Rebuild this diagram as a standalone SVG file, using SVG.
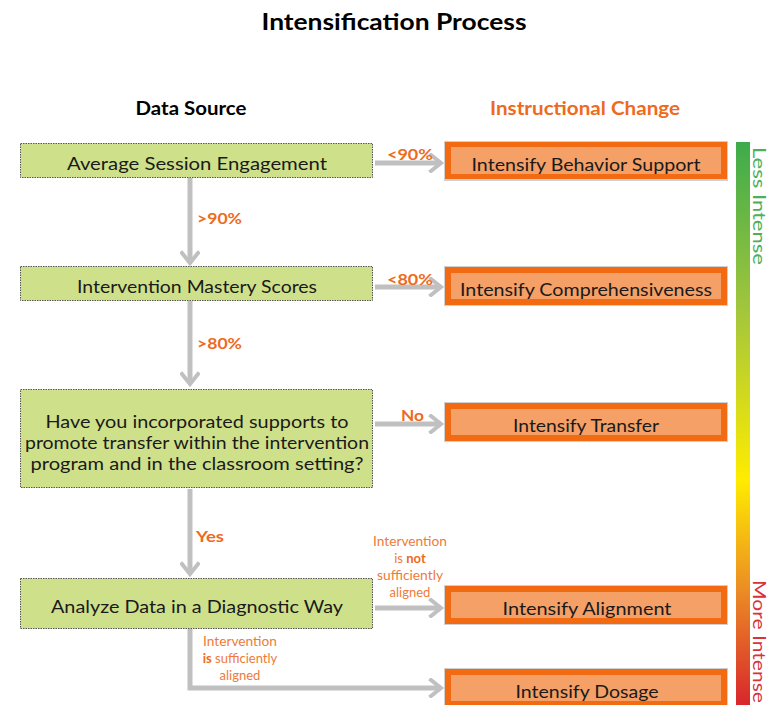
<svg xmlns="http://www.w3.org/2000/svg" width="771" height="705" viewBox="0 0 771 705">
  <style>
    text { font-family: Lato, "Noto Sans", "Liberation Sans", sans-serif; }
    .title { font-size: 23px; font-weight: bold; fill: #000; }
    .head { font-size: 18px; font-weight: bold; }
    .src rect { fill: #cfe08a; stroke: #555; stroke-width: 1; stroke-dasharray: 1.5 1; }
    .src text { font-size: 18px; fill: #1a1a1a; text-anchor: middle; }
    .chg .outer { fill: #d0d0d0; }
    .chg .band { fill: #f26a11; }
    .chg .inner { fill: #f4a066; }
    .chg text { font-size: 18px; fill: #1a1a1a; text-anchor: middle; }
    .conn path { fill: none; stroke: #c0c0c0; stroke-width: 5; }
    .lbl { font-size: 16px; font-weight: bold; fill: #ee6a1c; }
    .note { font-size: 13px; fill: #ee7b3a; text-anchor: middle; }
    .note .b { font-weight: bold; fill: #ee6a1c; }
  </style>
  <defs>
    <marker id="arr" viewBox="0 0 10 10" refX="7" refY="5" markerWidth="4" markerHeight="4" markerUnits="strokeWidth" orient="auto">
      <path d="M2,1 L7,5 L2,9" fill="none" stroke="#c0c0c0" stroke-width="2" stroke-linecap="square"/>
    </marker>
    <linearGradient id="scale" x1="0" y1="0" x2="0" y2="1">
      <stop offset="0" stop-color="#3dab4b"/>
      <stop offset="0.3" stop-color="#a3c63c"/>
      <stop offset="0.6" stop-color="#ffec00"/>
      <stop offset="0.8" stop-color="#eb8a25"/>
      <stop offset="1" stop-color="#d8262d"/>
    </linearGradient>
  </defs>

  <text class="title" x="394" y="30" text-anchor="middle" textLength="265" lengthAdjust="spacingAndGlyphs">Intensification Process</text>
  <text class="head" x="191" y="115" text-anchor="middle" fill="#000" textLength="111" lengthAdjust="spacingAndGlyphs">Data Source</text>
  <text class="head" x="585" y="115" text-anchor="middle" fill="#ee6a1c" textLength="190" lengthAdjust="spacingAndGlyphs">Instructional Change</text>

  <!-- connectors -->
  <g id="connectors" class="conn">
    <path d="M375,163 H441" marker-end="url(#arr)"/>
    <path d="M375,287 H441" marker-end="url(#arr)"/>
    <path d="M375,424 H441" marker-end="url(#arr)"/>
    <path d="M375,608 H441" marker-end="url(#arr)"/>
    <path d="M190,178 V263" marker-end="url(#arr)"/>
    <path d="M190,301 V384" marker-end="url(#arr)"/>
    <path d="M190,489 V574" marker-end="url(#arr)"/>
    <path d="M190,629 V688 H441" marker-end="url(#arr)"/>
  </g>

  <!-- branch labels -->
  <g id="labels">
    <text class="lbl" x="387" y="160" textLength="46" lengthAdjust="spacingAndGlyphs">&lt;90%</text>
    <text class="lbl" x="197" y="224" textLength="45" lengthAdjust="spacingAndGlyphs">&gt;90%</text>
    <text class="lbl" x="387" y="285" textLength="46" lengthAdjust="spacingAndGlyphs">&lt;80%</text>
    <text class="lbl" x="197" y="349" textLength="45" lengthAdjust="spacingAndGlyphs">&gt;80%</text>
    <text class="lbl" x="401" y="421" textLength="23" lengthAdjust="spacingAndGlyphs">No</text>
    <text class="lbl" x="196" y="542" textLength="28" lengthAdjust="spacingAndGlyphs">Yes</text>
    <text class="note" x="410" y="546" textLength="74" lengthAdjust="spacingAndGlyphs">Intervention</text>
    <text class="note" x="410" y="563">is <tspan class="b">not</tspan></text>
    <text class="note" x="410" y="580" textLength="66" lengthAdjust="spacingAndGlyphs">sufficiently</text>
    <text class="note" x="410" y="597">aligned</text>
    <text class="note" x="240" y="646" textLength="74" lengthAdjust="spacingAndGlyphs">Intervention</text>
    <text class="note" x="240" y="663"><tspan class="b">is</tspan> sufficiently</text>
    <text class="note" x="240" y="680">aligned</text>
  </g>

  <!-- data source nodes -->
  <g id="src-engagement" class="src">
    <rect x="20.5" y="143.5" width="352" height="34"/>
    <text x="197" y="170" textLength="260" lengthAdjust="spacingAndGlyphs">Average Session Engagement</text>
  </g>
  <g id="src-mastery" class="src">
    <rect x="20.5" y="266.5" width="352" height="34"/>
    <text x="197" y="293" textLength="240" lengthAdjust="spacingAndGlyphs">Intervention Mastery Scores</text>
  </g>
  <g id="src-transfer" class="src">
    <rect x="20.5" y="389.5" width="352" height="98"/>
    <text x="197" y="428" textLength="303" lengthAdjust="spacingAndGlyphs">Have you incorporated supports to</text>
    <text x="197" y="449" textLength="344" lengthAdjust="spacingAndGlyphs">promote transfer within the intervention</text>
    <text x="197" y="470" textLength="333" lengthAdjust="spacingAndGlyphs">program and in the classroom setting?</text>
  </g>
  <g id="src-diagnostic" class="src">
    <rect x="20.5" y="578.5" width="352" height="50"/>
    <text x="197" y="613" textLength="292" lengthAdjust="spacingAndGlyphs">Analyze Data in a Diagnostic Way</text>
  </g>

  <!-- instructional change nodes -->
  <g id="chg-behavior" class="chg">
    <rect class="outer" x="444" y="141" width="284" height="40"/>
    <rect class="band" x="445" y="142" width="282" height="37"/>
    <rect class="inner" x="451" y="147" width="270" height="27"/>
    <text x="586" y="171" textLength="229" lengthAdjust="spacingAndGlyphs">Intensify Behavior Support</text>
  </g>
  <g id="chg-comprehensiveness" class="chg">
    <rect class="outer" x="444" y="266" width="284" height="40"/>
    <rect class="band" x="445" y="267" width="282" height="38"/>
    <rect class="inner" x="451" y="273" width="270" height="26"/>
    <text x="586" y="296" textLength="252" lengthAdjust="spacingAndGlyphs">Intensify Comprehensiveness</text>
  </g>
  <g id="chg-transfer" class="chg">
    <rect class="outer" x="444" y="402" width="284" height="40"/>
    <rect class="band" x="445" y="403" width="282" height="38"/>
    <rect class="inner" x="451" y="409" width="270" height="26"/>
    <text x="586" y="432" textLength="146" lengthAdjust="spacingAndGlyphs">Intensify Transfer</text>
  </g>
  <g id="chg-alignment" class="chg">
    <rect class="outer" x="444" y="585" width="284" height="40"/>
    <rect class="band" x="445" y="586" width="282" height="38"/>
    <rect class="inner" x="451" y="592" width="270" height="26"/>
    <text x="587" y="615" textLength="169" lengthAdjust="spacingAndGlyphs">Intensify Alignment</text>
  </g>
  <g id="chg-dosage" class="chg">
    <rect class="outer" x="444" y="668" width="284" height="40"/>
    <rect class="band" x="445" y="669" width="282" height="38"/>
    <rect class="inner" x="451" y="675" width="270" height="26"/>
    <text x="587" y="698" textLength="143" lengthAdjust="spacingAndGlyphs">Intensify Dosage</text>
  </g>

  <!-- intensity scale -->
  <g id="scale-bar">
    <rect x="736" y="142" width="14" height="563" fill="url(#scale)"/>
    <text x="753" y="147" transform="rotate(90 753 147)" font-size="18" fill="#4caf5a" textLength="118" lengthAdjust="spacingAndGlyphs">Less Intense</text>
    <text x="753" y="580" transform="rotate(90 753 580)" font-size="18" fill="#d8323a" textLength="123" lengthAdjust="spacingAndGlyphs">More Intense</text>
  </g>
</svg>
